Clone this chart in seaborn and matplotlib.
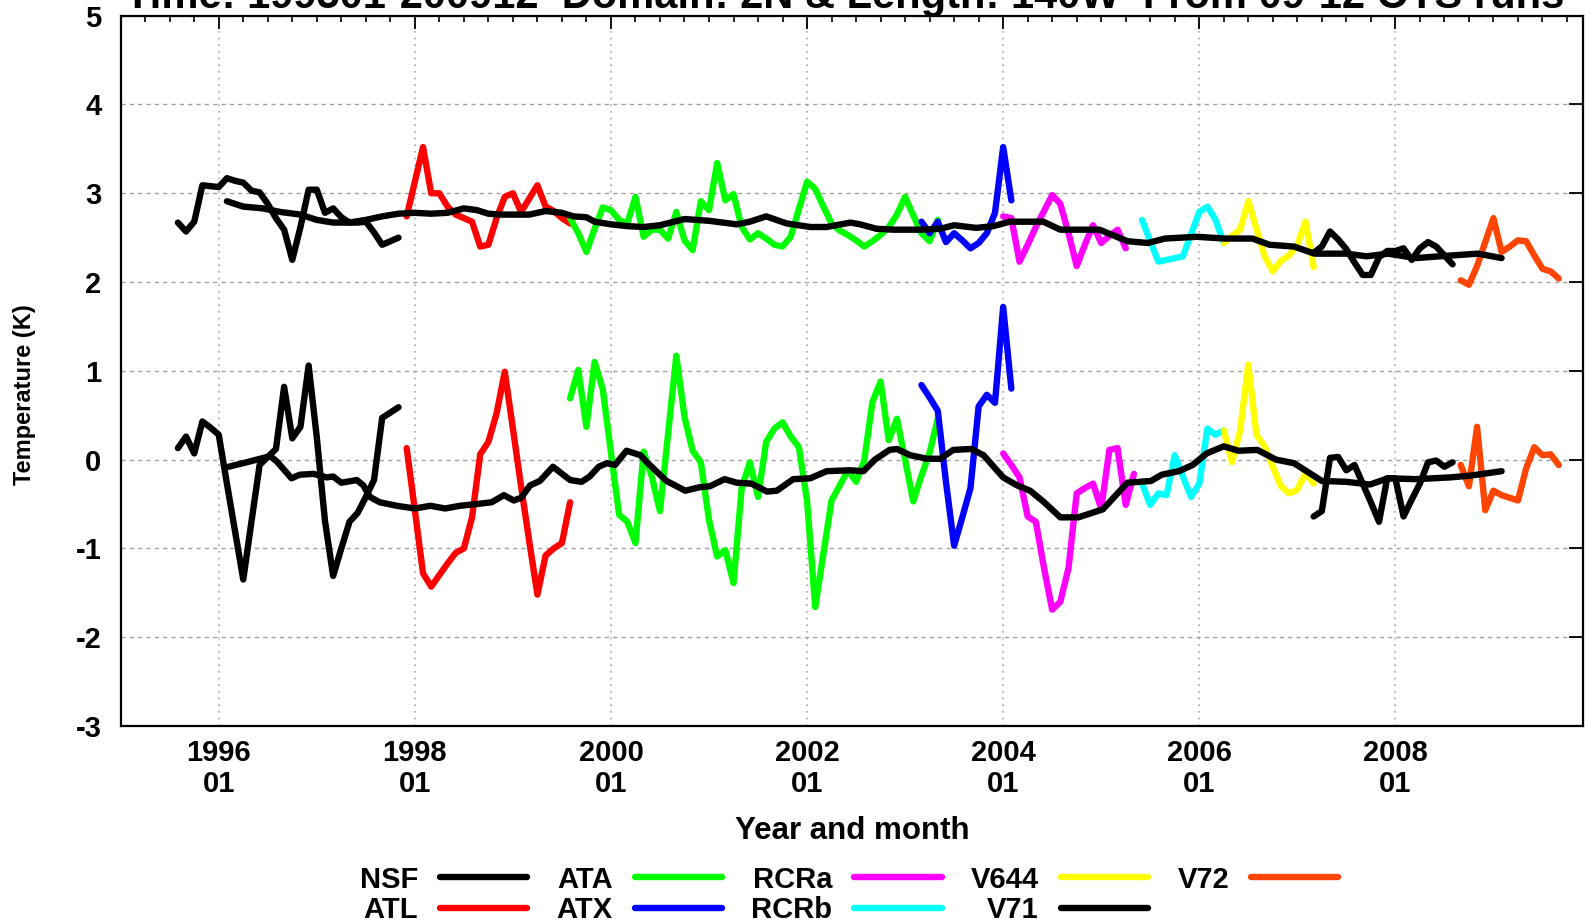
import numpy as np
import pandas as pd
import matplotlib
matplotlib.use("Agg")
import matplotlib.pyplot as plt
from matplotlib.lines import Line2D
from matplotlib.ticker import FixedLocator, MultipleLocator
import seaborn as sns

# -------------------------------
# Data (months counted from 1995-01 = 0)
# -------------------------------
series_names = ["NSF", "ATL", "ATA", "ATX", "RCRa", "RCRb", "V644", "V71", "V72"]
series_colors = ["#000000", "#ff0000", "#00ff00", "#0000ff", "#ff00ff",
                 "#00ffff", "#ffff00", "#000000", "#ff4500"]
series_start = [7, 35, 55, 98, 108, 125, 135, 146, 164]

nsf_upper = [2.67, 2.57, 2.68, 3.09, 3.08, 3.07, 3.17, 3.14, 3.12, 3.03, 3.01, 2.88, 2.72, 2.59,
             2.25, 2.62, 3.04, 3.04, 2.78, 2.83, 2.73, 2.67, 2.67, 2.68, 2.56, 2.42, 2.46, 2.50]
nsf_lower = [0.13, 0.26, 0.07, 0.43, 0.36, 0.28, -0.27, -0.81, -1.35, -0.70, -0.06, 0.03, 0.12, 0.82,
             0.24, 0.37, 1.06, 0.25, -0.69, -1.31, -1.00, -0.70, -0.60, -0.42, -0.23, 0.47, 0.53, 0.59]

atl_upper = [2.74, 3.13, 3.52, 3.00, 3.00, 2.85, 2.76, 2.72, 2.68, 2.40, 2.42, 2.72, 2.96, 3.00,
             2.79, 2.94, 3.09, 2.85, 2.80, 2.72, 2.66]
atl_lower = [0.13, -0.57, -1.28, -1.43, -1.30, -1.17, -1.05, -1.00, -0.65, 0.06, 0.20, 0.52, 0.99,
             0.35, -0.30, -0.92, -1.52, -1.08, -1.00, -0.94, -0.48]

ata_upper = [2.72, 2.55, 2.34, 2.60, 2.84, 2.81, 2.70, 2.66, 2.96, 2.51, 2.59, 2.59, 2.49, 2.79,
             2.47, 2.36, 2.91, 2.81, 3.34, 2.92, 2.99, 2.62, 2.48, 2.55, 2.49, 2.42, 2.40, 2.51,
             2.82, 3.13, 3.05, 2.85, 2.66, 2.58, 2.53, 2.47, 2.40, 2.46, 2.53, 2.62, 2.76, 2.96,
             2.75, 2.55, 2.46, 2.70]
ata_lower = [0.69, 1.01, 0.37, 1.10, 0.79, 0.08, -0.62, -0.70, -0.94, 0.09, -0.19, -0.58, 0.30,
             1.17, 0.48, 0.10, -0.03, -0.68, -1.09, -1.02, -1.39, -0.32, -0.03, -0.42, 0.20, 0.35,
             0.42, 0.26, 0.14, -0.46, -1.66, -1.06, -0.46, -0.29, -0.12, -0.25, -0.01, 0.65, 0.88,
             0.22, 0.46, 0.00, -0.47, -0.18, 0.08, 0.46]

atx_upper = [2.68, 2.55, 2.68, 2.45, 2.55, 2.47, 2.38, 2.44, 2.55, 2.78, 3.52, 2.92]
atx_lower = [0.84, 0.70, 0.55, -0.25, -0.97, -0.65, -0.32, 0.60, 0.73, 0.64, 1.72, 0.80]

rcra_upper = [2.74, 2.72, 2.23, 2.42, 2.62, 2.80, 2.98, 2.88, 2.55, 2.18, 2.42, 2.64, 2.44, 2.52,
              2.59, 2.38]
rcra_lower = [0.07, -0.06, -0.20, -0.64, -0.70, -1.22, -1.69, -1.60, -1.22, -0.38, -0.32, -0.27,
              -0.55, 0.11, 0.13, -0.51, -0.16]

rcrb_upper = [2.70, 2.46, 2.23, 2.25, 2.27, 2.29, 2.54, 2.79, 2.85, 2.70, 2.44]
rcrb_lower = [-0.27, -0.51, -0.38, -0.40, 0.05, -0.19, -0.42, -0.27, 0.35, 0.28, 0.33]

v644_upper = [2.44, 2.52, 2.59, 2.91, 2.60, 2.29, 2.12, 2.24, 2.30, 2.42, 2.68, 2.17]
v644_lower = [0.33, -0.03, 0.33, 1.07, 0.28, 0.15, -0.08, -0.30, -0.38, -0.34, -0.15, -0.27]

v71_upper = [2.33, 2.40, 2.57, 2.48, 2.37, 2.22, 2.08, 2.08, 2.28, 2.35, 2.35, 2.38, 2.25, 2.38,
             2.45, 2.40, 2.30, 2.20]
v71_lower = [-0.64, -0.58, 0.02, 0.03, -0.12, -0.06, -0.27, -0.48, -0.70, -0.21, -0.21, -0.64,
             -0.45, -0.27, -0.03, -0.01, -0.08, -0.03]

v72_upper = [2.02, 1.97, 2.18, 2.45, 2.72, 2.34, 2.40, 2.47, 2.46, 2.30, 2.15, 2.12, 2.04]
v72_lower = [-0.06, -0.30, 0.37, -0.57, -0.35, -0.40, -0.43, -0.46, -0.10, 0.14, 0.05, 0.06, -0.06]

upper_values = [nsf_upper, atl_upper, ata_upper, atx_upper, rcra_upper,
                rcrb_upper, v644_upper, v71_upper, v72_upper]
lower_values = [nsf_lower, atl_lower, ata_lower, atx_lower, rcra_lower,
                rcrb_lower, v644_lower, v71_lower, v72_lower]

# running means (month, value)
smooth_upper_month = [13, 15, 17.4, 19.5, 22, 24, 26, 28, 30, 32, 34, 36, 38, 40, 42, 43.6, 45,
                      46.4, 50, 52, 54, 55.4, 57, 58, 60, 62, 64, 66, 69, 72, 75.4, 77, 79, 81.5,
                      84.4, 86.4, 89.3, 90.5, 92.5, 94.6, 97.8, 100.3, 102, 104.7, 106.8, 108.8,
                      112.9, 115, 119.8, 123.2, 125.7, 127.8, 131.7, 135.1, 138.5, 140.6, 143.6,
                      146.1, 150, 152.5, 155.1, 158.5, 161.4, 166.1, 169]
smooth_upper_value = [2.91, 2.85, 2.83, 2.79, 2.76, 2.70, 2.67, 2.67, 2.70, 2.74, 2.77, 2.78,
                      2.77, 2.78, 2.83, 2.81, 2.77, 2.76, 2.76, 2.80, 2.78, 2.74, 2.73, 2.68,
                      2.65, 2.63, 2.62, 2.64, 2.71, 2.69, 2.65, 2.68, 2.74, 2.66, 2.62, 2.62,
                      2.67, 2.65, 2.60, 2.59, 2.59, 2.60, 2.64, 2.61, 2.63, 2.68, 2.68, 2.59,
                      2.59, 2.46, 2.44, 2.49, 2.51, 2.49, 2.49, 2.42, 2.40, 2.32, 2.32, 2.29,
                      2.32, 2.27, 2.29, 2.32, 2.27]
smooth_lower_month = [13.2, 15.4, 18.3, 19.1, 20.9, 21.9, 23.6, 25.2, 26, 27, 28.9, 29.7, 30.5,
                      31.7, 33.8, 36, 37.9, 39.7, 41.5, 43.6, 45.4, 46.9, 48.1, 49, 50.1, 51.3,
                      52.9, 55, 56.4, 57.4, 58.5, 59.5, 60.5, 61.9, 63.6, 64.4, 66.8, 69.1, 70.9,
                      72.1, 73.9, 75.4, 77.2, 79.1, 80.3, 82.3, 84.4, 86.4, 89.3, 90.9, 92.3,
                      94.1, 95, 96.6, 98.7, 100.3, 101.9, 104.1, 105.6, 108, 109.7, 111.3, 112.9,
                      115, 117.2, 120.2, 123.2, 126.1, 127.4, 129.5, 131.2, 132.9, 135, 136.8,
                      139.1, 141.4, 143.6, 147, 150, 152.9, 155.1, 158.5, 162.7, 165.2, 169]
smooth_lower_value = [-0.08, -0.03, 0.04, -0.02, -0.21, -0.17, -0.16, -0.20, -0.19, -0.26, -0.23,
                      -0.29, -0.42, -0.48, -0.52, -0.55, -0.52, -0.55, -0.52, -0.50, -0.48, -0.40,
                      -0.46, -0.43, -0.29, -0.24, -0.08, -0.23, -0.25, -0.19, -0.08, -0.04, -0.06,
                      0.10, 0.05, -0.03, -0.24, -0.35, -0.31, -0.30, -0.22, -0.26, -0.27, -0.36,
                      -0.35, -0.22, -0.21, -0.13, -0.12, -0.13, 0.00, 0.11, 0.12, 0.05, 0.01, 0.01,
                      0.11, 0.12, 0.05, -0.20, -0.29, -0.35, -0.47, -0.65, -0.65, -0.56, -0.26,
                      -0.24, -0.17, -0.13, -0.06, 0.07, 0.15, 0.10, 0.11, 0.00, -0.04, -0.24,
                      -0.25, -0.28, -0.21, -0.22, -0.20, -0.18, -0.13]

tick_years = [1996, 1998, 2000, 2002, 2004, 2006, 2008]
title_text = "Time: 199501-200912  Domain: 2N & Length: 140W  From 09-12 OTS runs"


def to_year(months):
    return 1995 + np.asarray(months, dtype=float) / 12.0


def build_frame():
    parts = []
    for name, start, up, lo in zip(series_names, series_start, upper_values, lower_values):
        for branch, vals in (("upper", up), ("lower", lo)):
            months = start + np.arange(len(vals))
            parts.append(pd.DataFrame({"year": to_year(months), "temp": vals,
                                       "series": name, "branch": branch}))
    return pd.concat(parts, ignore_index=True)


def main():
    sns.set_theme(style="white")
    plt.rcParams["font.family"] = ["Liberation Sans", "DejaVu Sans"]
    plt.rcParams["font.weight"] = "bold"
    plt.rcParams["axes.unicode_minus"] = False
    for key in ("text.color", "axes.labelcolor", "xtick.color", "ytick.color"):
        plt.rcParams[key] = "black"

    df = build_frame()
    palette = dict(zip(series_names, series_colors))

    fig = plt.figure(figsize=(15.85, 9.24), dpi=100)
    W, H = 1585.0, 924.0
    ax = fig.add_axes([120.7 / W, 1 - 726 / H, (1583.3 - 120.7) / W, (726 - 15.7) / H])

    # -------------------------------
    # Lines
    # -------------------------------
    lw = 4.6
    sns.lineplot(data=df, x="year", y="temp", hue="series", units="branch",
                 estimator=None, hue_order=series_names, palette=palette,
                 linewidth=lw, legend=False, sort=False, ax=ax)
    sns.lineplot(x=to_year(smooth_upper_month), y=smooth_upper_value, color="black",
                 linewidth=lw, estimator=None, sort=False, ax=ax)
    sns.lineplot(x=to_year(smooth_lower_month), y=smooth_lower_value, color="black",
                 linewidth=lw, estimator=None, sort=False, ax=ax)

    # -------------------------------
    # Axes, ticks, grid
    # -------------------------------
    ax.set_xlim(1995, 1995 + 179 / 12)
    ax.set_ylim(-3, 5)
    ax.xaxis.set_major_locator(FixedLocator(tick_years))
    ax.set_xticklabels([f"{y}\n01" for y in tick_years], linespacing=1.15)
    ax.xaxis.set_minor_locator(MultipleLocator(0.25))
    ax.yaxis.set_major_locator(MultipleLocator(1))
    ax.set_xlabel("")
    ax.set_ylabel("")

    ax.tick_params(which="both", direction="in", top=True, right=True, colors="black",
                   labelsize=21)
    ax.tick_params(axis="x", which="major", length=9, width=1.3, pad=9.5)
    ax.tick_params(axis="x", which="minor", length=4.5, width=1.2)
    ax.tick_params(axis="y", which="major", length=10, width=1.3, pad=14)

    ax.yaxis.grid(True, linestyle=(0, (3, 3)), color="#a0a0a0", linewidth=1)
    ax.xaxis.grid(True, which="major", linestyle=(0, (1, 3)), color="#a8a8a8", linewidth=1.2)
    for spine in ax.spines.values():
        spine.set_visible(True)
        spine.set_color("black")
        spine.set_linewidth(1.6)

    fig.text(852 / W, 1 - 839 / H, "Year and month", ha="center", va="baseline",
             fontsize=22.5, fontweight="bold")
    fig.text(25 / W, 1 - 395 / H, "Temperature (K)", rotation=90, ha="center", va="center",
             fontsize=17, fontweight="bold")
    # title sits mostly above the canvas, as in the original export
    fig.text(845 / W, 1 - 8 / H, title_text, ha="center", va="baseline",
             fontsize=30, fontweight="bold")

    # -------------------------------
    # Legend
    # -------------------------------
    handles = [Line2D([], [], color=c, linewidth=lw) for c in series_colors]
    ax.legend(handles, series_names, ncol=5, markerfirst=False, frameon=False,
              loc="center", bbox_to_anchor=(849 / W, 1 - 895 / H), bbox_transform=fig.transFigure,
              fontsize=21, handlelength=3.0, handletextpad=0.75, columnspacing=1.0,
              labelspacing=0.09, borderpad=0, borderaxespad=0)

    fig.savefig("out.png", dpi=100)


if __name__ == "__main__":
    main()
